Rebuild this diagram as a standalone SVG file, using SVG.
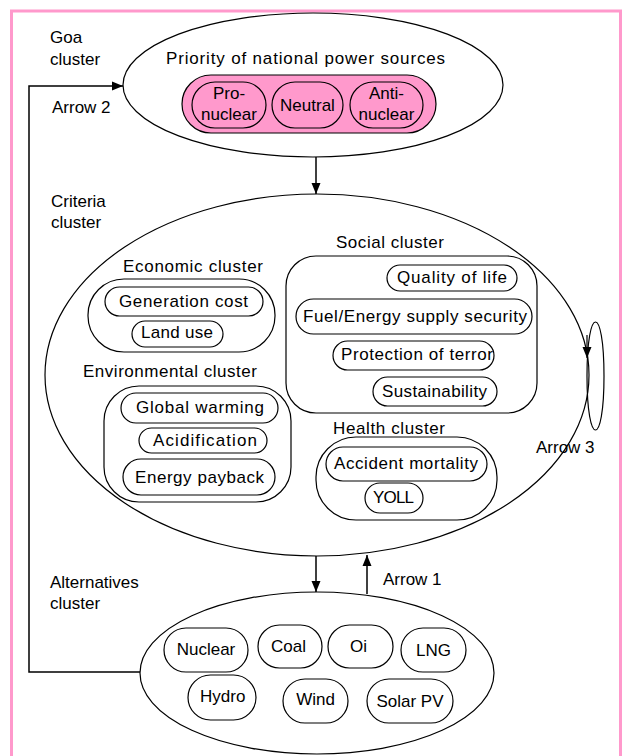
<svg xmlns="http://www.w3.org/2000/svg" width="623" height="756" viewBox="0 0 623 756">
<style>
text{font-family:"Liberation Sans",Arial,sans-serif;font-size:17px;fill:#000}
.c{text-anchor:middle}
.sh{fill:none;stroke:#000;stroke-width:1.2}
.wf{fill:#fff;stroke:#000;stroke-width:1.2}
.pk{fill:#ff99cc;stroke:#000;stroke-width:1.2}
.ln{fill:none;stroke:#000;stroke-width:1.5}
</style>
<defs>
<marker id="ah" markerUnits="userSpaceOnUse" markerWidth="12" markerHeight="10" refX="11" refY="5" orient="auto">
<path d="M0,0.5 L11,5 L0,9.5 Z" fill="#000"/>
</marker>
</defs>
<rect width="623" height="756" fill="#fff"/>
<path d="M11.5,760 V11 H620.5 V760" fill="none" stroke="#ff99cc" stroke-width="3"/>

<g id="goal">
<ellipse cx="313" cy="85" rx="190" ry="72" class="wf"/>
<text x="166" y="64" textLength="279" lengthAdjust="spacing">Priority of national power  sources</text>
<rect x="182" y="75" width="254" height="58" rx="29" class="pk"/>
<g id="pro"><rect x="192" y="82" width="74" height="46" rx="23" class="pk"/><text x="229" y="99" class="c">Pro-</text><text x="229" y="120" class="c">nuclear</text></g>
<g id="neutral"><rect x="272" y="82" width="71" height="46" rx="23" class="pk"/><text x="307.5" y="111" class="c">Neutral</text></g>
<g id="anti"><rect x="350" y="82" width="73" height="46" rx="23" class="pk"/><text x="386.5" y="99" class="c">Anti-</text><text x="386.5" y="120" class="c">nuclear</text></g>
</g>
<text x="50" y="43">Goa</text>
<text x="50" y="65">cluster</text>
<text x="52" y="113">Arrow 2</text>

<g id="criteria">
<ellipse cx="317" cy="375" rx="272" ry="181" class="wf"/>
</g>
<text x="51" y="207">Criteria</text>
<text x="51" y="228">cluster</text>

<g id="economic">
<text x="123" y="272" textLength="140" lengthAdjust="spacing">Economic cluster</text>
<rect x="88" y="279" width="187" height="73" rx="36" class="sh"/>
<g id="gencost"><rect x="105" y="287" width="158" height="29" rx="14.5" class="sh"/><text x="119" y="307" textLength="129" lengthAdjust="spacing">Generation cost</text></g>
<g id="landuse"><rect x="132" y="321" width="91" height="26" rx="13" class="sh"/><text x="141" y="338" textLength="72" lengthAdjust="spacing">Land use</text></g>
</g>

<g id="environmental">
<text x="83" y="377" textLength="174" lengthAdjust="spacing">Environmental cluster</text>
<rect x="104" y="386" width="187" height="116" rx="35" class="sh"/>
<g id="gw"><rect x="121" y="393" width="157" height="30" rx="15" class="sh"/><text x="136" y="413" textLength="128" lengthAdjust="spacing">Global warming</text></g>
<g id="acid"><rect x="139" y="428" width="128" height="25" rx="12.5" class="sh"/><text x="153" y="446" textLength="104" lengthAdjust="spacing">Acidification</text></g>
<g id="epb"><rect x="123" y="459" width="152" height="36" rx="18" class="sh"/><text x="135" y="483" textLength="129" lengthAdjust="spacing">Energy payback</text></g>
</g>

<g id="social">
<text x="336" y="248" textLength="108" lengthAdjust="spacing">Social cluster</text>
<rect x="286" y="256" width="251" height="157" rx="30" class="sh"/>
<g id="qol"><rect x="387" y="265" width="130" height="26" rx="13" class="sh"/><text x="397" y="283" textLength="110" lengthAdjust="spacing">Quality of life</text></g>
<g id="fuel"><rect x="296" y="299" width="236" height="35" rx="17.5" class="sh"/><text x="303" y="322" textLength="224" lengthAdjust="spacing">Fuel/Energy supply security</text></g>
<g id="terror"><rect x="333" y="341" width="161" height="29" rx="14.5" class="sh"/><text x="341" y="360" textLength="152" lengthAdjust="spacing">Protection of terror</text></g>
<g id="sust"><rect x="373" y="377" width="124" height="29" rx="14.5" class="sh"/><text x="382" y="397" textLength="105" lengthAdjust="spacing">Sustainability</text></g>
</g>

<g id="health">
<text x="333" y="434" textLength="112" lengthAdjust="spacing">Health cluster</text>
<rect x="316" y="437" width="181" height="83" rx="40" class="sh"/>
<g id="accident"><rect x="326" y="447" width="161" height="34" rx="17" class="sh"/><text x="334" y="469" textLength="144" lengthAdjust="spacing">Accident mortality</text></g>
<g id="yoll"><rect x="365" y="483" width="58" height="30" rx="15" class="sh"/><text x="373" y="503" textLength="41" lengthAdjust="spacing">YOLL</text></g>
</g>
<text x="536" y="453">Arrow 3</text>

<g id="alternatives">
<ellipse cx="317" cy="673" rx="177" ry="81" class="wf"/>
<g id="nuclear"><rect x="164" y="628" width="84" height="44" rx="22" class="sh"/><text x="206" y="655" class="c">Nuclear</text></g>
<g id="coal"><rect x="258" y="625" width="64" height="43" rx="21.5" class="sh"/><text x="271" y="652">Coal</text></g>
<g id="oil"><rect x="328" y="625" width="65" height="43" rx="21.5" class="sh"/><text x="350" y="652">Oi</text></g>
<g id="lng"><rect x="401" y="628" width="65" height="44" rx="22" class="sh"/><text x="433.5" y="656" class="c">LNG</text></g>
<g id="hydro"><rect x="188" y="675" width="68" height="45" rx="22.5" class="sh"/><text x="200" y="702">Hydro</text></g>
<g id="wind"><rect x="283" y="679" width="65" height="44" rx="22" class="sh"/><text x="315.5" y="705" class="c">Wind</text></g>
<g id="solar"><rect x="367" y="679" width="86" height="44" rx="22" class="sh"/><text x="410" y="707" class="c">Solar PV</text></g>
</g>
<text x="50" y="588">Alternatives</text>
<text x="50" y="609">cluster</text>
<text x="383" y="585">Arrow 1</text>

<g id="connectors">
<path class="ln" d="M140,672 H29 V86 H123" marker-end="url(#ah)"/>
<path class="ln" d="M316,157 V194" marker-end="url(#ah)"/>
<path class="ln" d="M316,556 V592" marker-end="url(#ah)"/>
<path class="ln" d="M367,594 V555" marker-end="url(#ah)"/>
<path class="sh" d="M587,376 C587,448 604,448 604,376 C604,304 587,304 587,376"/>
<path class="sh" d="M587,335 L587,358" marker-end="url(#ah)"/>
</g>
</svg>
